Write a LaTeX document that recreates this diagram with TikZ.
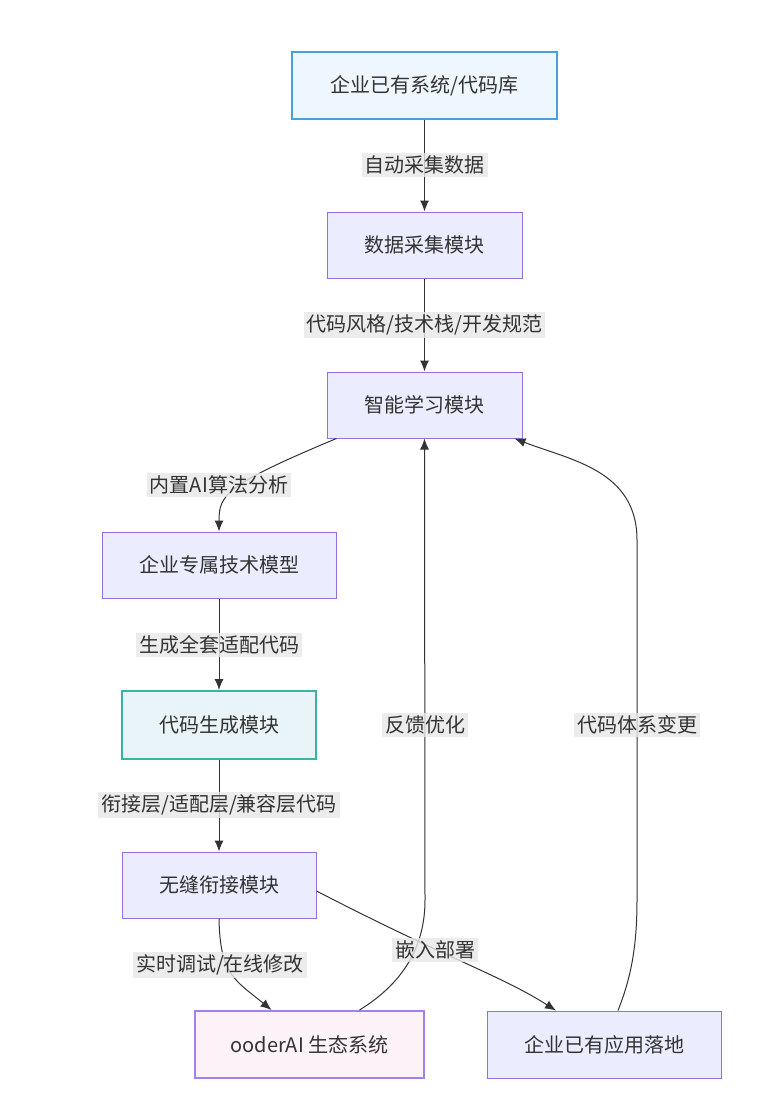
\documentclass[tikz,border=0pt]{standalone}
\usepackage{fontspec}
\setmainfont{Noto Sans CJK SC}
\usetikzlibrary{arrows.meta}
\definecolor{boxfill}{HTML}{ECECFF}
\definecolor{boxline}{HTML}{9370DB}
\definecolor{srcfill}{HTML}{EEF6FF}
\definecolor{srcline}{HTML}{4A9FE0}
\definecolor{genfill}{HTML}{E8F4F8}
\definecolor{genline}{HTML}{3AB3A6}
\definecolor{ecofill}{HTML}{FDF2F8}
\definecolor{ecoline}{HTML}{A77FEB}
\definecolor{edgeline}{HTML}{333333}
\definecolor{labelfill}{HTML}{E8E8E8}
\tikzset{
  box/.style={draw=boxline, fill=boxfill, line width=1pt, minimum height=66pt, text=edgeline,
    font=\fontsize{20}{23}\selectfont},
  edgelabel/.style={fill=labelfill, fill opacity=0.8, text opacity=1, inner sep=3pt, text=edgeline,
    font=\fontsize{20}{23}\selectfont},
  arr/.style={draw=edgeline, line width=1pt, -{Latex[length=11pt,width=9pt]}},
  plain/.style={draw=edgeline, line width=1pt}
}
\begin{document}
\begin{tikzpicture}[x=1pt,y=-1pt]
\useasboundingbox[fill=white] (0,0) rectangle (780,1105);
\node[box, draw=srcline, fill=srcfill, line width=2pt, minimum width=265pt, minimum height=67pt] (src) at (424.5,85.5) {企业已有系统/代码库};
\node[box, minimum width=195pt] (collect) at (424.5,245) {数据采集模块};
\node[box, minimum width=195pt] (learn) at (424.5,405) {智能学习模块};
\node[box, minimum width=234pt] (model) at (219,565) {企业专属技术模型};
\node[box, draw=genline, fill=genfill, line width=2pt, minimum width=194pt, minimum height=68pt] (gen) at (219,725) {代码生成模块};
\node[box, minimum width=194pt] (seam) at (219,885) {无缝衔接模块};
\node[box, draw=ecoline, fill=ecofill, line width=2pt, minimum width=229pt, minimum height=67pt] (eco) at (309.5,1044.5) {ooderAI 生态系统};
\node[box, minimum width=234pt, minimum height=67pt] (app) at (604,1044.5) {企业已有应用落地};
\draw[arr] (src) -- (collect);
\draw[arr] (collect) -- (learn);
\draw[arr] ([xshift=10pt]learn.south west) .. controls (225,485) and (219,495) .. (model.north);
\draw[arr] (model) -- (gen);
\draw[arr] (gen) -- (seam);
\draw[arr] (seam.south) .. controls (220,975) and (235,980) .. ([xshift=-38pt]eco.north);
\draw[arr] ([yshift=-6pt]seam.east) .. controls (450,960) and (500,975) .. ([xshift=-48pt]app.north);
\draw[arr] ([xshift=50pt]eco.north) .. controls (400,985) and (425,950) .. (425,900) -- (learn.south);
\draw[arr] ([xshift=14pt]app.north) .. controls (630,980) and (637,950) .. (637,900) -- (637,540)
  .. controls (637,470) and (570,460) .. ([xshift=-8pt]learn.south east);
\node[edgelabel] (l1) at (424.5,165) {自动采集数据};
\node[edgelabel] (l2) at (424.5,325) {代码风格/技术栈/开发规范};
\node[edgelabel] (l3) at (219,485) {内置AI算法分析};
\node[edgelabel] (l4) at (219,645) {生成全套适配代码};
\node[edgelabel] (l5) at (219,805) {衔接层/适配层/兼容层代码};
\node[edgelabel] (l6) at (220,965) {实时调试/在线修改};
\node[edgelabel] (l7) at (435,950) {嵌入部署};
\node[edgelabel] (l8) at (425,725) {反馈优化};
\node[edgelabel] (l9) at (637,725) {代码体系变更};
\end{tikzpicture}
\end{document}
